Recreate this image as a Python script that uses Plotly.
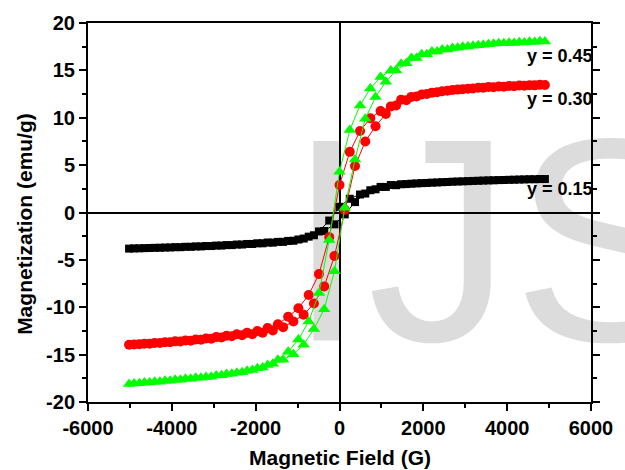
import plotly.graph_objects as go

# Magnetic field grid (G) for the descending branch
field_desc = [4900, 4655, 4410, 4165, 3920, 3675, 3430, 3185, 2940, 2695, 2450,
              2205, 1960, 1715, 1470, 1225, 980, 735, 490, 245, 0,
              -245, -490, -735, -980, -1225, -1470, -1715, -1960, -2205, -2450,
              -2695, -2940, -3185, -3430, -3675, -3920, -4165, -4410, -4655, -4900]
# Magnetic field grid (G) for the ascending branch
field_asc = [-5020, -4775, -4530, -4285, -4040, -3795, -3550, -3305, -3060, -2815, -2570,
             -2325, -2080, -1835, -1590, -1345, -1100, -855, -610, -365, -120,
             125, 370, 615, 860, 1105, 1350, 1595, 1840, 2085, 2330,
             2575, 2820, 3065, 3310, 3555, 3800, 4045, 4290, 4535, 4780]

# y = 0.15 (black squares)
m015_desc = [3.53, 3.51, 3.49, 3.46, 3.43, 3.40, 3.37, 3.33, 3.29, 3.25, 3.20,
             3.15, 3.10, 3.04, 2.98, 2.90, 2.70, 2.35, 1.90, 1.45, 0.60,
             -0.85, -2.00, -2.55, -2.85, -3.00, -3.10, -3.17, -3.25, -3.32, -3.38,
             -3.44, -3.49, -3.54, -3.58, -3.62, -3.66, -3.70, -3.73, -3.76, -3.79]
m015_asc = [-3.81, -3.78, -3.75, -3.72, -3.69, -3.66, -3.62, -3.58, -3.54, -3.49, -3.44,
            -3.38, -3.32, -3.25, -3.18, -3.10, -2.98, -2.75, -2.40, -1.95, -1.25,
            -0.20, 1.10, 2.00, 2.45, 2.70, 2.88, 3.00, 3.07, 3.12, 3.17,
            3.22, 3.27, 3.31, 3.35, 3.39, 3.42, 3.45, 3.48, 3.51, 3.53]

# y = 0.30 (red circles)
m030_desc = [13.45, 13.42, 13.38, 13.33, 13.28, 13.23, 13.17, 13.10, 13.02, 12.93, 12.80,
             12.65, 12.45, 12.20, 11.90, 11.20, 10.70, 9.95, 8.60, 6.40, 2.90,
             -2.60, -6.50, -8.70, -10.10, -11.00, -11.80, -12.20, -12.50, -12.70, -12.85,
             -13.00, -13.15, -13.30, -13.40, -13.50, -13.60, -13.70, -13.78, -13.85, -13.92]
m030_asc = [-13.96, -13.90, -13.84, -13.77, -13.70, -13.62, -13.53, -13.43, -13.32, -13.19, -13.06,
            -12.95, -12.85, -12.70, -12.45, -12.10, -11.50, -10.80, -9.60, -7.80, -4.60,
            0.30, 4.90, 7.50, 9.10, 10.40, 11.30, 11.85, 12.25, 12.50, 12.70,
            12.85, 12.97, 13.07, 13.16, 13.24, 13.30, 13.36, 13.40, 13.44, 13.47]

# y = 0.45 (green triangles)
m045_desc = [18.05, 18.00, 17.95, 17.90, 17.85, 17.80, 17.70, 17.60, 17.50, 17.35, 17.20,
             17.00, 16.70, 16.30, 15.70, 15.00, 14.30, 13.10, 11.30, 8.70, 4.30,
             -2.90, -8.50, -11.50, -13.40, -14.70, -15.55, -16.10, -16.45, -16.70, -16.90,
             -17.05, -17.20, -17.35, -17.45, -17.55, -17.65, -17.75, -17.85, -17.95, -18.05]
m045_asc = [-18.10, -18.02, -17.93, -17.85, -17.75, -17.65, -17.55, -17.45, -17.33, -17.18, -17.02,
            -16.85, -16.62, -16.35, -15.95, -15.55, -14.95, -13.95, -12.30, -10.20, -6.20,
            0.50, 5.60, 9.90, 12.20, 13.80, 15.00, 15.75, 16.30, 16.70, 17.00,
            17.20, 17.38, 17.52, 17.65, 17.75, 17.85, 17.92, 17.98, 18.03, 18.08]

series_labels = ["y = 0.15", "y = 0.30", "y = 0.45"]
label_field = [5850, 5850, 5850]
label_m = [2.35, 11.85, 16.45]

x_tickvals = [-6000, -4000, -2000, 0, 2000, 4000, 6000]
x_ticktext = ["-6000", "-4000", "-2000", "0", "2000", "4000", "6000"]
y_tickvals = [-20, -15, -10, -5, 0, 5, 10, 15, 20]
y_ticktext = ["-20", "-15", "-10", "-5", "0", "5", "10", "15", "20"]

FONT = "Liberation Sans, Arial, sans-serif"

fig = go.Figure()
styles = [
    (m015_desc, m015_asc, "#000000", "square", 8),
    (m030_desc, m030_asc, "#ff0000", "circle", 10),
    (m045_desc, m045_asc, "#00ff00", "triangle-up", 11),
]
for (md, ma, col, sym, sz), name in zip(styles, series_labels):
    fig.add_trace(go.Scatter(
        x=field_desc + field_asc, y=md + ma, mode="lines+markers", name=name,
        line=dict(color=col, width=1),
        marker=dict(color=col, symbol=sym, size=sz, line=dict(width=0)),
        showlegend=False,
    ))

for txt, lx, ly in zip(series_labels, label_field, label_m):
    fig.add_annotation(x=lx, y=ly, xref="x", yref="y", text="<b>%s</b>" % txt,
                       showarrow=False, xanchor="right", yanchor="middle",
                       xshift=10, yshift=1,
                       font=dict(family=FONT, size=18, color="black"))

# watermark
fig.add_shape(type="rect", xref="paper", yref="paper", x0=0.383, x1=1.2, y0=0.1, y1=0.9,
              line=dict(width=0), fillcolor="rgba(0,0,0,0)", layer="below",
              label=dict(text="IJS", textposition="middle left",
                         font=dict(family=FONT, size=290, color="#dcdcdc")))

# axis titles
fig.add_annotation(x=0.5, y=0, xref="paper", yref="paper", yshift=-55,
                   text="<b>Magnetic Field (G)</b>", showarrow=False,
                   xanchor="center", yanchor="middle",
                   font=dict(family=FONT, size=21, color="black"))
fig.add_annotation(x=0, y=0.47, xref="paper", yref="paper", xshift=-63,
                   text="<b>Magnetization (emu/g)</b>", showarrow=False, textangle=-90,
                   xanchor="center", yanchor="middle",
                   font=dict(family=FONT, size=21, color="black"))

axis_common = dict(showgrid=False, zeroline=True, zerolinecolor="black", zerolinewidth=2,
                   showline=True, linecolor="black", linewidth=2,
                   ticks="outside", ticklen=7, tickwidth=2, tickcolor="black",
                   tickfont=dict(family=FONT, size=20, color="black", weight="bold"))

fig.update_xaxes(range=[-6000, 6000], tickmode="array", tickvals=x_tickvals, ticktext=x_ticktext,
                 mirror=True,
                 minor=dict(dtick=1000, tick0=-6000, ticks="outside", ticklen=4, tickwidth=2,
                            tickcolor="black"),
                 **axis_common)
fig.update_yaxes(range=[-20, 20], tickmode="array", tickvals=y_tickvals, ticktext=y_ticktext,
                 mirror="ticks",
                 minor=dict(dtick=2.5, tick0=-20, ticks="outside", ticklen=4, tickwidth=2,
                            tickcolor="black"),
                 **axis_common)

fig.update_layout(width=625, height=470, margin=dict(l=88, r=25, t=19, b=68),
                  paper_bgcolor="white", plot_bgcolor="white",
                  font=dict(family=FONT, color="black"))

fig.write_html("out.html")
